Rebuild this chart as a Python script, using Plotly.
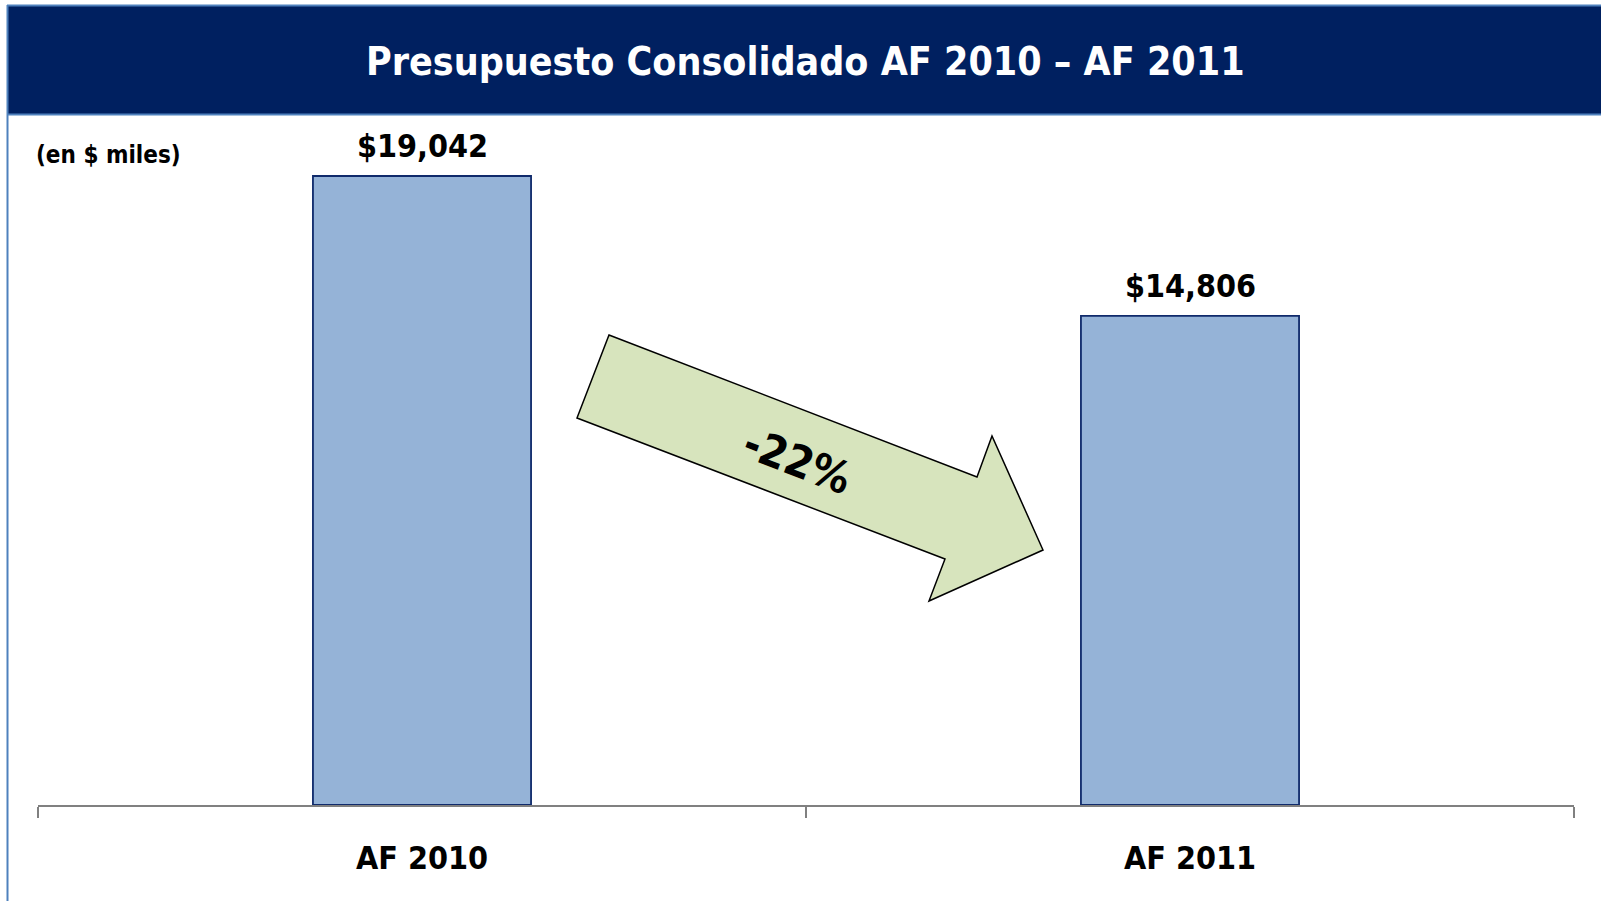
import plotly.graph_objects as go

categories = ["AF 2010", "AF 2011"]
values = [19042, 14806]
value_labels = ["$19,042", "$14,806"]
title_text = "Presupuesto Consolidado AF 2010 – AF 2011"
unit_text = "(en $ miles)"
change_text = "-22%"

W, H = 1601, 901
L, R, T, B = 38, 27, 115, 96
PW, PH = W - L - R, H - T - B
FONT = "DejaVu Sans Condensed, DejaVu Sans, sans-serif"


def px(x):
    return (x - L) / PW


def py(y):
    return (H - B - y) / PH


fig = go.Figure()
fig.add_trace(go.Bar(
    x=categories, y=values,
    marker=dict(color="#95B3D7", line=dict(color="#0F2A6B", width=1.8)),
    width=0.284, hoverinfo="skip",
))

for c, v, t in zip(categories, values, value_labels):
    fig.add_annotation(x=c, y=v, text=t, showarrow=False, yanchor="bottom", yshift=9,
                       font=dict(family=FONT, size=32, color="#000000", weight="bold"))

shapes = []
# header band
shapes.append(dict(type="rect", xref="paper", yref="paper", x0=px(7), x1=px(1605), y0=py(114), y1=py(5),
                   fillcolor="#002060", line=dict(width=0), layer="below"))
border = "#4F81BD"
shapes.append(dict(type="line", xref="paper", yref="paper", x0=px(7), x1=px(1605), y0=py(114.5), y1=py(114.5),
                   line=dict(color=border, width=2)))
shapes.append(dict(type="line", xref="paper", yref="paper", x0=px(7), x1=px(1605), y0=py(5.5), y1=py(5.5),
                   line=dict(color=border, width=2)))
shapes.append(dict(type="line", xref="paper", yref="paper", x0=px(7.5), x1=px(7.5), y0=py(5), y1=py(905),
                   line=dict(color=border, width=2)))
# arrow
pts = [(609, 335), (977, 477), (992, 436), (1043, 550), (929, 601), (945, 559), (577, 418)]
path = "M " + " L ".join(f"{px(a):.5f},{py(b):.5f}" for a, b in pts) + " Z"
shapes.append(dict(type="path", xref="paper", yref="paper", path=path,
                   fillcolor="#D7E4BD", line=dict(color="#000000", width=1.5)))

fig.update_layout(
    width=W, height=H,
    margin=dict(l=L, r=R, t=T, b=B, pad=0),
    paper_bgcolor="white", plot_bgcolor="white",
    showlegend=False,
    bargap=0.716,
    shapes=shapes,
    xaxis=dict(showline=True, linecolor="#808080", linewidth=2, ticks="outside", tickson="boundaries",
               ticklen=11, tickwidth=2, tickcolor="#808080", showgrid=False, zeroline=False,
               ticklabelstandoff=24,
               tickfont=dict(family=FONT, size=32, color="#000000", weight="bold")),
    yaxis=dict(range=[0, 20888], visible=False, showgrid=False, zeroline=False),
)

fig.add_annotation(xref="paper", yref="paper", x=px(805), y=py(61), text=title_text, showarrow=False,
                   xanchor="center", yanchor="middle",
                   font=dict(family=FONT, size=39, color="#FFFFFF", weight="bold"))
fig.add_annotation(xref="paper", yref="paper", x=px(34), y=py(155), text=unit_text, showarrow=False,
                   xanchor="left", yanchor="middle",
                   font=dict(family=FONT, size=24, color="#000000", weight="bold"))
fig.add_annotation(xref="paper", yref="paper", x=px(797), y=py(460), text=change_text, showarrow=False,
                   xanchor="center", yanchor="middle", textangle=21,
                   font=dict(family=FONT, size=44, color="#000000", weight="bold"))

fig.write_html("out.html", config={"displayModeBar": False},
               post_script="document.body.style.margin='0px';document.body.style.overflow='hidden';")
